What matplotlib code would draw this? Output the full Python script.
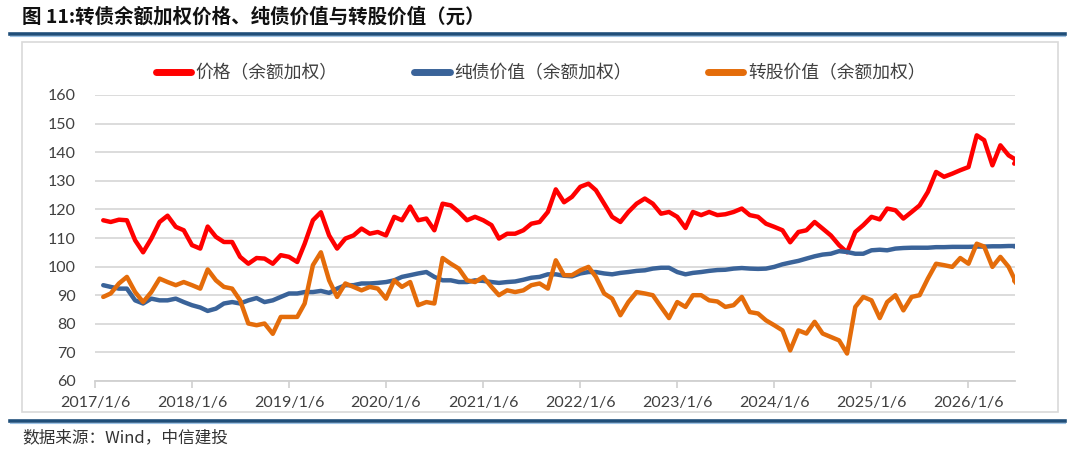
import matplotlib
matplotlib.use("Agg")
import matplotlib.pyplot as plt
from matplotlib.lines import Line2D
from matplotlib.patches import Rectangle
import pandas as pd

# ---------------- data ----------------
dates = list(pd.date_range("2017-01-06", periods=114, freq="MS") + pd.Timedelta(days=5)) + [pd.Timestamp("2026-06-27")]

price = [116.2, 115.6, 116.4, 116.2, 109.2, 105.0, 109.8, 115.6, 117.8, 113.9,
         112.7, 107.5, 106.3, 114.0, 110.4, 108.6, 108.6, 103.4, 101.0, 103.0,
         102.8, 101.0, 104.0, 103.4, 101.6, 108.0, 116.2, 119.0, 110.9, 106.3,
         109.8, 110.9, 113.3, 111.5, 112.1, 110.9, 117.4, 116.2, 121.0, 116.2,
         116.8, 112.7, 122.0, 121.4, 119.1, 116.2, 117.4, 116.2, 114.5, 109.8,
         111.5, 111.5, 112.7, 115.0, 115.6, 119.1, 127.0, 122.5, 124.4, 127.9,
         129.0, 126.7, 122.0, 117.4, 115.6, 119.1, 122.0, 123.8, 122.0, 118.5,
         119.1, 117.4, 113.5, 119.1, 118.0, 119.1, 118.0, 118.3, 119.1, 120.3,
         118.0, 117.4, 115.0, 113.9, 112.7, 108.5, 112.1, 112.7, 115.6, 113.3,
         110.9, 107.5, 105.0, 112.1, 114.5, 117.4, 116.5, 120.3, 119.7, 116.8,
         119.1, 121.4, 126.1, 133.1, 131.4, 132.5, 133.7, 134.8, 145.9, 144.2,
         135.4, 142.4, 138.9, 137.2, 136.0]

bond_value = [93.5, 92.9, 92.3, 92.3, 88.2, 87.1, 88.8, 88.2, 88.2, 88.8,
              87.6, 86.5, 85.7, 84.5, 85.3, 87.1, 87.6, 87.1, 88.2, 89.0,
              87.6, 88.2, 89.4, 90.6, 90.6, 91.1, 91.1, 91.5, 90.8, 92.3,
              93.5, 93.5, 94.1, 94.1, 94.3, 94.6, 95.2, 96.4, 97.0, 97.6,
              98.1, 96.4, 95.2, 95.2, 94.6, 94.6, 95.2, 95.0, 94.6, 94.3,
              94.6, 94.8, 95.4, 96.1, 96.4, 97.3, 97.3, 96.8, 96.6, 97.6,
              98.1, 98.1, 97.6, 97.3, 97.8, 98.1, 98.5, 98.7, 99.3, 99.6,
              99.6, 98.1, 97.3, 97.8, 98.1, 98.5, 98.8, 98.9, 99.3, 99.5,
              99.3, 99.2, 99.3, 99.9, 100.8, 101.4, 102.0, 102.8, 103.6, 104.2,
              104.5, 105.4, 105.1, 104.5, 104.5, 105.7, 105.9, 105.7, 106.3, 106.5,
              106.6, 106.6, 106.6, 106.8, 106.8, 106.9, 106.9, 106.9, 107.0, 107.0,
              107.1, 107.1, 107.2, 107.2, 107.1]

conv_value = [89.4, 90.6, 94.1, 96.4, 91.1, 87.6, 91.1, 95.8, 94.6, 93.5,
              94.6, 93.5, 92.3, 99.0, 95.2, 92.9, 92.3, 88.2, 80.1, 79.5,
              80.1, 76.5, 82.4, 82.4, 82.4, 87.1, 100.5, 105.0, 95.2, 89.4,
              94.1, 92.9, 91.7, 92.9, 92.3, 88.8, 95.2, 92.9, 94.6, 86.5,
              87.6, 87.1, 103.0, 101.0, 99.3, 95.2, 94.6, 96.4, 92.9, 90.0,
              91.7, 91.1, 91.7, 93.5, 94.1, 92.3, 102.2, 97.0, 97.0, 98.7,
              99.9, 96.4, 90.6, 88.8, 83.0, 87.6, 91.1, 90.6, 90.0, 85.9,
              82.0, 87.6, 85.9, 90.0, 90.0, 88.2, 87.8, 85.9, 86.5, 89.4,
              84.1, 83.6, 81.2, 79.5, 77.7, 70.7, 77.7, 76.6, 80.7, 76.6,
              75.4, 74.2, 69.6, 85.9, 89.4, 88.2, 82.0, 87.6, 90.0, 84.7,
              89.4, 90.0, 95.8, 101.0, 100.5, 99.9, 103.0, 101.0, 108.0, 107.0,
              99.9, 103.4, 99.9, 94.1, 95.0]

series_labels = ["价格（余额加权）", "纯债价值（余额加权）", "转股价值（余额加权）"]
series_colors = ["#FF0000", "#3A6399", "#E46C0A"]
tick_dates = [f"{y}-01-06" for y in range(2017, 2027)]
tick_labels = [f"{y}/1/6" for y in range(2017, 2027)]
y_ticks = list(range(60, 161, 10))

title = "图 11:转债余额加权价格、纯债价值与转股价值（元）"
source = "数据来源：Wind，中信建投"

# ---------------- figure ----------------
W, H = 1080, 454
fig = plt.figure(figsize=(W / 100, H / 100), dpi=100)
cjk = ["Noto Sans CJK SC", "DejaVu Sans"]
plt.rcParams["font.family"] = cjk

def fx(px):
    return px / W

def fy(py):
    return 1 - py / H

ax = fig.add_axes([fx(95), fy(381), fx(1015) - fx(95), fy(95) - fy(381)])

for vals, lab, col in zip([price, bond_value, conv_value], series_labels, series_colors):
    ax.plot(dates, vals, color=col, lw=3.2, label=lab, solid_capstyle="round", solid_joinstyle="round")

ax.set_ylim(60, 160)
ax.set_yticks(y_ticks)
ax.set_xlim(pd.Timestamp("2017-01-06"), pd.Timestamp("2026-06-30"))
ax.set_xticks([pd.Timestamp(d) for d in tick_dates])
ax.set_xticklabels(tick_labels)

ax.grid(axis="y", color="#D9D9D9", lw=1.3)
ax.set_axisbelow(True)
for s in ["top", "right", "left"]:
    ax.spines[s].set_visible(False)
ax.spines["bottom"].set_color("#D0D0D0")
ax.spines["bottom"].set_linewidth(1.3)
ax.tick_params(axis="x", direction="out", length=5, width=1.2, color="#D0D0D0", pad=6,
               labelsize=11.5, labelcolor="#404040")
ax.tick_params(axis="y", length=0, pad=14, labelsize=11.5, labelcolor="#404040")
for lbl in ax.get_xticklabels() + ax.get_yticklabels():
    lbl.set_fontfamily(["Lato", "DejaVu Sans"])

leg = ax.legend(loc="center", bbox_to_anchor=(0.5 * (fx(165) + fx(916)), fy(73)),
                bbox_transform=fig.transFigure, ncol=3, frameon=False,
                handlelength=2.0, handletextpad=0.25, columnspacing=4.3,
                prop={"family": cjk, "size": 12.8})
for line in leg.get_lines():
    line.set_linewidth(5)
for t in leg.get_texts():
    t.set_color("#404040")

# title, rules, frame, footer
fig.text(fx(22), fy(17), title, fontsize=14, fontweight="bold", color="#111111",
         va="center", ha="left", family=cjk)
fig.add_artist(Line2D([fx(10), fx(1065)], [fy(34), fy(34)], color="#1F4E79", lw=2.6))
fig.add_artist(Line2D([fx(10), fx(1065)], [fy(36.3), fy(36.3)], color="#9DC3E6", lw=0.8))
fig.add_artist(Rectangle((fx(22), fy(412)), fx(1058) - fx(22), fy(42) - fy(412),
                         transform=fig.transFigure, fill=False, edgecolor="#D9D9D9", lw=1.2))
fig.add_artist(Line2D([fx(10), fx(1065)], [fy(421), fy(421)], color="#1F4E79", lw=2.6))
fig.add_artist(Line2D([fx(10), fx(1065)], [fy(423.3), fy(423.3)], color="#9DC3E6", lw=0.8))
fig.text(fx(22), fy(438), source, fontsize=12, color="#333333", style="italic",
         va="center", ha="left", family=cjk)

fig.savefig("out.png", dpi=100)
